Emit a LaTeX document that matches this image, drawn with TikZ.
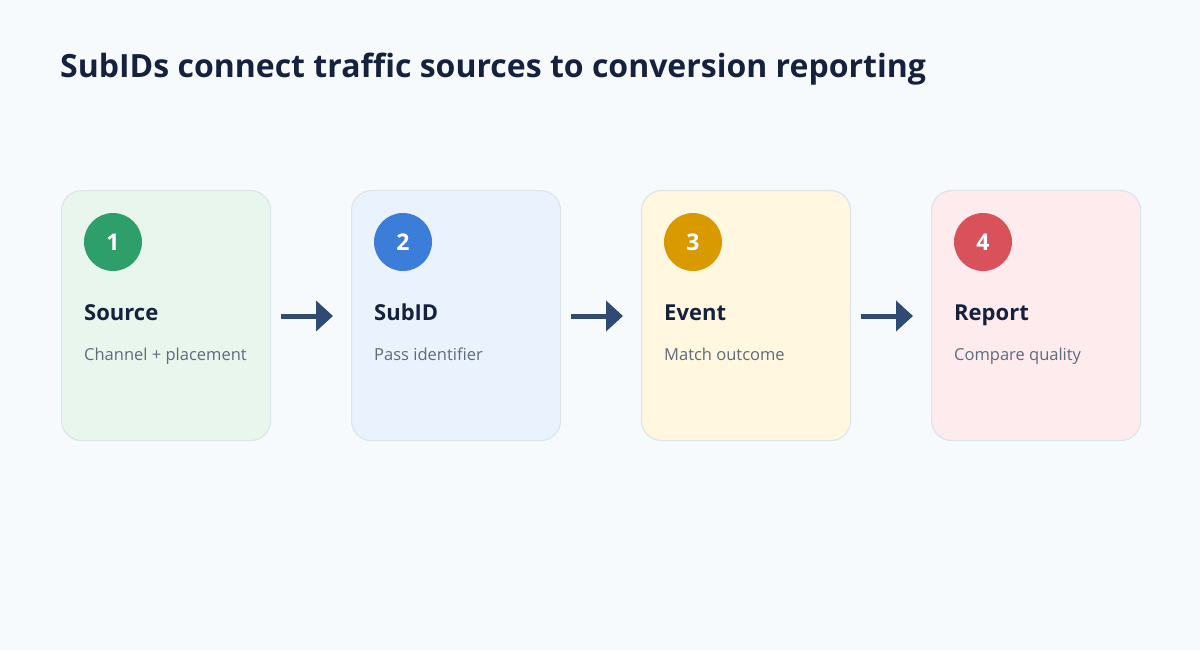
\documentclass[tikz,border=0pt]{standalone}
\usepackage{fontspec}
\setmainfont{Open Sans}
\usetikzlibrary{arrows.meta}
\definecolor{bg}{HTML}{F7FAFC}
\definecolor{ink}{HTML}{16213E}
\definecolor{sub}{HTML}{5F6B7A}
\definecolor{edge}{HTML}{DCE5EA}
\definecolor{arr}{HTML}{2F4B73}
\definecolor{fA}{HTML}{E8F6EE}\definecolor{cA}{HTML}{2E9E6A}
\definecolor{fB}{HTML}{EAF2FD}\definecolor{cB}{HTML}{3B7DD8}
\definecolor{fC}{HTML}{FFF7E0}\definecolor{cC}{HTML}{D99A00}
\definecolor{fD}{HTML}{FDEBEE}\definecolor{cD}{HTML}{D9525B}
\tikzset{
  card/.style={draw=edge, line width=1.2pt, rounded corners=20pt, minimum width=209pt, minimum height=250pt, inner sep=0pt},
  badge/.style={circle, minimum size=58pt, inner sep=0pt, text=white, font=\fontsize{23}{27}\selectfont\bfseries},
  ttl/.style={anchor=base west, inner sep=0pt, text=ink, font=\fontsize{22}{26}\selectfont\bfseries},
  desc/.style={anchor=base west, inner sep=0pt, text=sub, font=\fontsize{16.5}{20}\selectfont},
  flow/.style={draw=arr, line width=5pt, -{Triangle[length=17pt,width=30pt]}}
}
\begin{document}
\begin{tikzpicture}[x=1pt,y=-1pt]
\fill[bg] (0,0) rectangle (1200,650);
\useasboundingbox (0,0) rectangle (1200,650);
\node[anchor=base west, inner sep=0pt, text=ink, font=\fontsize{32}{38}\selectfont\bfseries] (head) at (60,78) {SubIDs connect traffic sources to conversion reporting};
\foreach \i/\x/\f/\c/\n/\t/\d in {1/61/fA/cA/1/Source/Channel + placement, 2/351/fB/cB/2/SubID/Pass identifier, 3/641/fC/cC/3/Event/Match outcome, 4/931/fD/cD/4/Report/Compare quality}{
  \node[card, fill=\f, anchor=north west] (card\i) at (\x,190) {};
  \node[badge, fill=\c] (badge\i) at (\x+52,242) {\n};
  \node[ttl] (title\i) at (\x+23,320) {\t};
  \node[desc] (desc\i) at (\x+23,360) {\d};
}
\foreach \a/\b in {1/2,2/3,3/4}{
  \coordinate (s\a) at ([xshift=10pt]card\a.east |- 0,316);
  \coordinate (e\a) at ([xshift=-18pt]card\b.west |- 0,316);
  \draw[flow] (s\a) -- (e\a);
}
\end{tikzpicture}
\end{document}
